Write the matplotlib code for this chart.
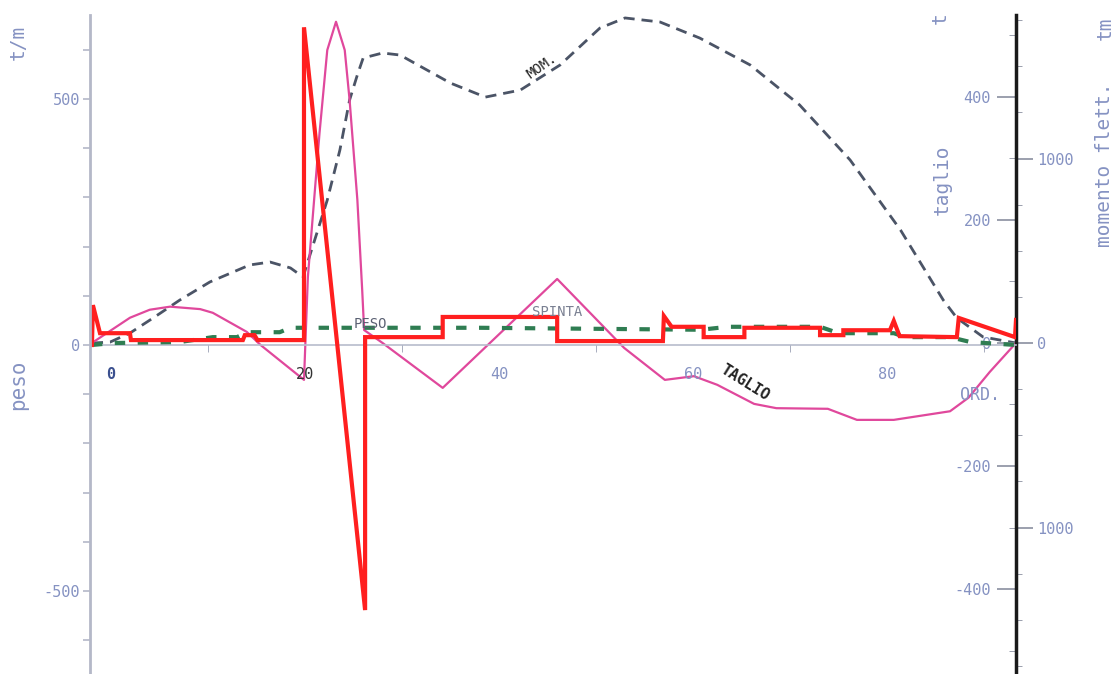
import matplotlib
matplotlib.use('Agg')
import matplotlib.pyplot as plt
import numpy as np

W, H = 1117, 674

# x positions along the ship (m) and values
x_peso = [-1.96, -1.86, -1.13, 1.96, 2.06, 13.6, 13.8, 14.8, 15.1, 19.9, 19.9, 26.2, 26.2,
          34.2, 34.2, 46.0, 46.0, 56.9, 57.0, 57.8, 61.1, 61.1, 65.3, 65.3, 73.1, 73.1,
          75.5, 75.5, 80.3, 80.7, 81.3, 87.2, 87.4, 93.2, 93.3]
peso = [0, 81, 24, 24, 10, 10, 20, 20, 10, 10, 646, -539, 16,
        16, 57, 57, 8, 8, 59, 37, 37, 16, 16, 35, 35, 20,
        20, 30, 30, 49, 18, 16, 55, 16, 51]

x_spinta = [-1.96, 0.2, 7.1, 10.5, 13.0, 14.0, 17.4, 18.5, 38.0, 60.8, 63.6, 73.1,
            75.0, 80.7, 81.9, 86.5, 88.6, 93.3]
spinta = [0, 4, 6, 16, 16, 26, 26, 35, 35, 31, 37, 37, 24, 24, 16, 16, 6, 0]

x_taglio = [-1.96, 1.96, 4.0, 6.1, 9.2, 10.5, 14.0, 15.4, 19.9, 20.3, 21.5, 22.3, 23.2,
            24.1, 24.6, 25.4, 25.9, 26.1, 28.0, 34.2, 46.0, 52.9, 57.1, 60.1, 62.5,
            66.3, 68.6, 73.9, 76.9, 80.7, 86.5, 88.4, 90.6, 93.3]
taglio = [0, 41, 54, 59, 55, 49, 18, -3, -60, 107, 341, 476, 522,
          476, 395, 233, 86, 21, 0, -73, 104, -8, -60, -54, -68,
          -99, -106, -107, -125, -125, -111, -89, -47, 0]

x_mom = [-1.96, -0.1, 1.96, 4.5, 7.1, 10.2, 14.3, 16.4, 18.5, 19.8, 21.0, 22.3, 23.6,
         24.6, 25.4, 26.0, 28.0, 29.8, 35.0, 38.6, 42.2, 46.3, 50.4, 53.0, 56.6,
         60.7, 65.9, 71.0, 76.2, 81.4, 85.8, 87.2, 89.9, 93.3]
momento = [0, 5, 54, 141, 233, 331, 423, 439, 407, 358, 558, 775, 1046,
           1317, 1453, 1545, 1572, 1561, 1409, 1333, 1371, 1507, 1707, 1762, 1740,
           1653, 1507, 1290, 992, 612, 233, 136, 33, 0]

x_ticklabels = ['0', '20', '40', '60', '80']

lab_col = '#8592c2'
mono = 'DejaVu Sans Mono'


def px(x, y):
    return x / W, 1 - y / H


fig = plt.figure(figsize=(W / 100, H / 100), dpi=100)
ax = fig.add_axes([90 / W, 0, (1016 - 90) / W, (674 - 15) / H])
ax2 = ax.twinx()
ax3 = ax.twinx()

ax.set_xlim(-2.16, 93.3)
ax.set_ylim(-669, 671)
ax2.set_ylim(-538, 533)
ax3.set_ylim(-1794, 1778)

# curves
ax3.plot(x_mom, momento, color='#4b5466', lw=2, dashes=(4, 2.5))
ax2.plot(x_taglio, taglio, color='#e0489c', lw=1.6)
ax.plot(x_spinta, spinta, color='#2f7d52', lw=3, dashes=(2.5, 3))
ax.plot(x_peso, peso, color='#ff1f1f', lw=3, solid_joinstyle='miter')

ax.set_zorder(3)
ax.patch.set_visible(False)
ax2.set_zorder(2)
ax3.set_zorder(1)

# left axis (peso)
for s in ['top', 'right']:
    ax.spines[s].set_visible(False)
ax.spines['left'].set_color('#b4b8c8')
ax.spines['left'].set_linewidth(2)
ax.spines['bottom'].set_position(('data', 0))
ax.spines['bottom'].set_color('#b8bccc')
ax.spines['bottom'].set_linewidth(1.2)
ax.spines['bottom'].set_zorder(0)

yt = np.arange(-600, 700, 100)
ax.set_yticks(yt)
ax.set_yticklabels(['500' if v == 500 else ('-500' if v == -500 else ('0' if v == 0 else '')) for v in yt])
ax.tick_params(axis='y', direction='out', length=5, width=1.2, color='#b4b8c8',
               labelcolor=lab_col, labelsize=11, pad=2)

ax.set_xticks([0, 20, 40, 60, 80])
ax.set_xticklabels(x_ticklabels)
ax.set_xticks([10, 30, 50, 70, 90], minor=True)
ax.tick_params(axis='x', which='major', length=0, pad=16, labelcolor=lab_col, labelsize=11)
ax.tick_params(axis='x', which='minor', direction='out', length=5, color='#9aa0b4')
xl = ax.get_xticklabels()
xl[0].set_color('#3b508f')
xl[0].set_fontweight('bold')
xl[1].set_color('#333333')
for t in ax.get_xticklabels() + ax.get_yticklabels():
    t.set_family(mono)

# taglio axis on the dark right spine, labels inside
for s in ['top', 'left', 'bottom']:
    ax2.spines[s].set_visible(False)
ax2.spines['right'].set_color('#1a1a1a')
ax2.spines['right'].set_linewidth(2.5)
ax2.set_yticks([-400, -200, 0, 200, 400])
ax2.set_yticklabels(['-400', '-200', '0', '200', '400'])
ax2.set_yticks(np.arange(-500, 600, 100), minor=True)
ax2.tick_params(axis='y', which='major', direction='in', length=14, width=1.2,
                color='#8a8fa0', pad=-18, labelcolor=lab_col, labelsize=11)
ax2.tick_params(axis='y', which='minor', direction='in', length=5, color='#8a8fa0')
for t in ax2.get_yticklabels():
    t.set_horizontalalignment('right')
    t.set_family(mono)

# momento axis, labels outside
for s in ['top', 'left', 'bottom', 'right']:
    ax3.spines[s].set_visible(False)
ax3.set_yticks([-1000, 0, 1000])
ax3.set_yticklabels(['1000', '0', '1000'])
ax3.set_yticks(np.arange(-1750, 1800, 250), minor=True)
ax3.tick_params(axis='y', which='major', direction='out', length=12, width=1.2,
                color='#8a8fa0', pad=3, labelcolor=lab_col, labelsize=11)
ax3.tick_params(axis='y', which='minor', direction='out', length=4, color='#8a8fa0')
for t in ax3.get_yticklabels():
    t.set_family(mono)

# axis titles
tk = dict(color=lab_col, family=mono, rotation=90, ha='center', va='center')
fig.text(*px(18, 42), 't/m', fontsize=14, **tk)
fig.text(*px(18, 385), 'peso', fontsize=15, **tk)
fig.text(*px(940, 18), 't', fontsize=14, **tk)
fig.text(*px(942, 180), 'taglio', fontsize=14, **tk)
fig.text(*px(1105, 165), 'momento flett.', fontsize=14, **tk)
fig.text(*px(1105, 28), 'tm', fontsize=14, **tk)

# curve labels
fig.text(*px(542, 66), 'MOM.', fontsize=10, color='#222222', family=mono,
         rotation=35, ha='center', va='center')
fig.text(*px(745, 383), 'TAGLIO', fontsize=11, color='#222222', family=mono,
         rotation=-32, ha='center', va='center', fontweight='bold')
fig.text(*px(370, 324), 'PESO', fontsize=10, color='#5a6072', family=mono,
         ha='center', va='center')
fig.text(*px(557, 312), 'SPINTA', fontsize=10, color='#7a8092', family=mono,
         ha='center', va='center')
fig.text(*px(980, 395), 'ORD.', fontsize=12, color=lab_col, family=mono,
         ha='center', va='center')

fig.savefig('out.png', dpi=100)
